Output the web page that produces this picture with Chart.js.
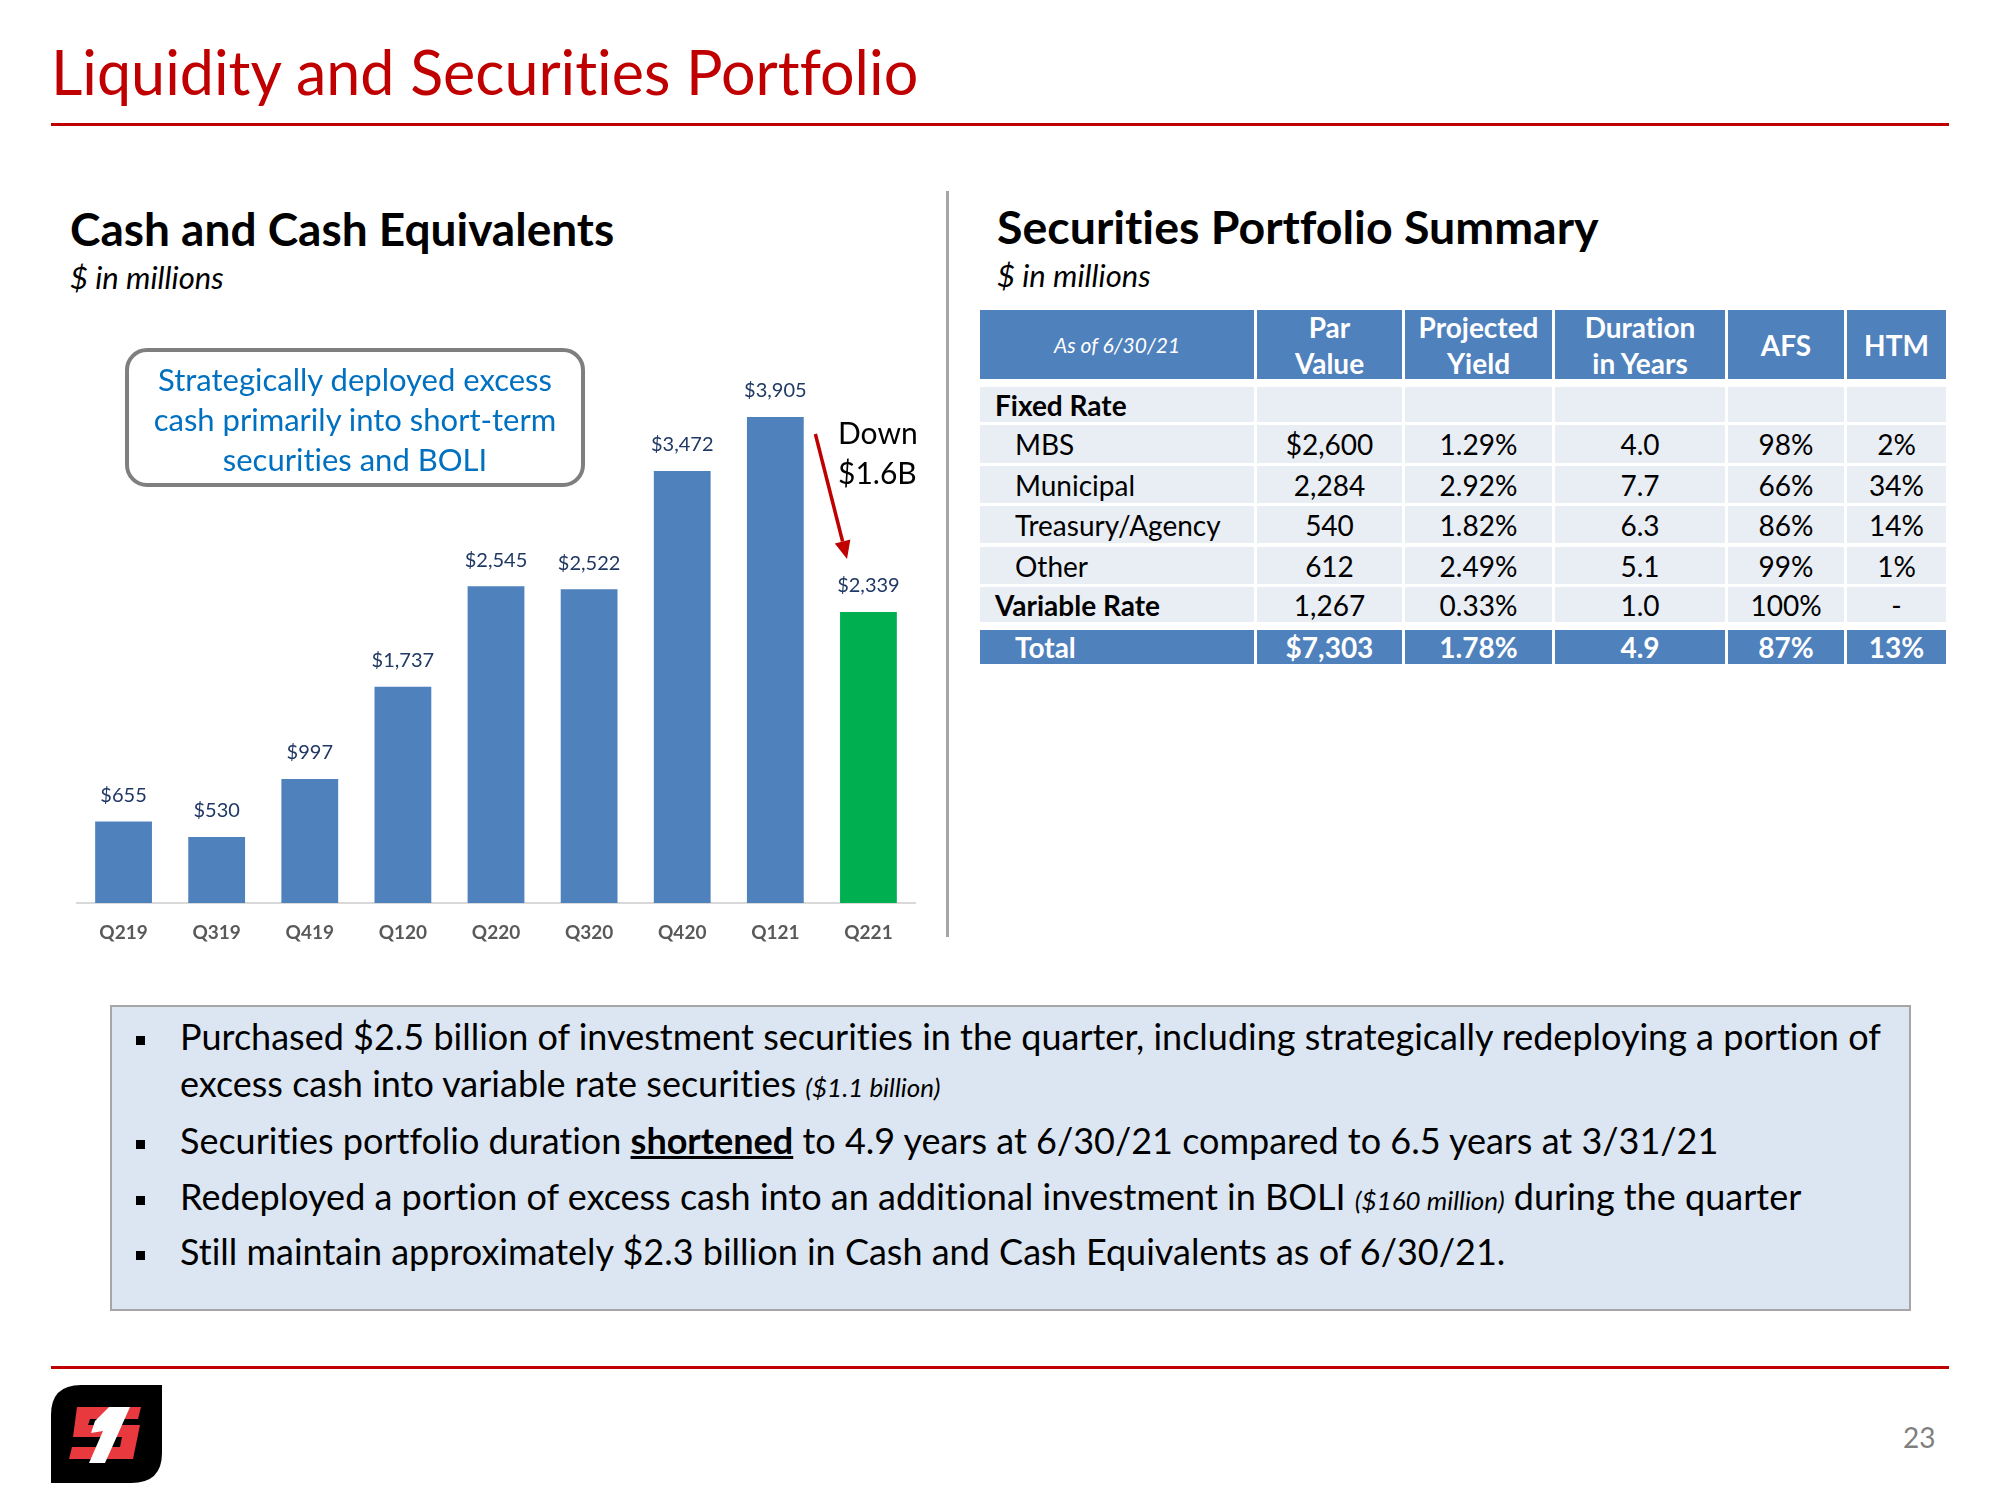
<!DOCTYPE html>
<html><head><meta charset="utf-8">
<script src="https://cdn.jsdelivr.net/npm/chart.js@4.4.0/dist/chart.umd.min.js"></script>
<style>
html,body{margin:0;padding:0;background:#fff;}
body{width:2000px;height:1500px;position:relative;overflow:hidden;font-family:Lato,"Open Sans",sans-serif;font-variant-ligatures:none;font-feature-settings:"liga" 0;}
.abs{position:absolute;white-space:nowrap;line-height:1;}
.hr{position:absolute;left:51px;width:1898px;height:3px;background:#c00000;}
#tbl div.cell{position:absolute;display:flex;align-items:center;justify-content:center;box-sizing:border-box;font-size:28px;color:#000;white-space:nowrap;}
.bul{position:absolute;left:136px;width:9px;height:9px;background:#000;}
.bt{font-size:36px;color:#000;left:180px;}
.sm{font-size:26px;font-style:italic;}
</style></head>
<body>
<div class="abs" style="left:51px;top:41px;font-size:61px;color:#c00000;">Liquidity and Securities Portfolio</div>
<div class="hr" style="top:123px;"></div>

<div class="abs" style="left:70px;top:206px;font-size:46px;font-weight:700;color:#000;">Cash and Cash Equivalents</div>
<div class="abs" style="left:70px;top:262px;font-size:31px;font-style:italic;color:#000;">$ in millions</div>

<div style="position:absolute;left:946px;top:191px;width:3px;height:746px;background:#a6a6a6;"></div>

<div class="abs" style="left:997px;top:203px;font-size:46.5px;font-weight:700;color:#000;">Securities Portfolio Summary</div>
<div class="abs" style="left:997px;top:260px;font-size:31px;font-style:italic;color:#000;">$ in millions</div>

<canvas id="c" width="880" height="660" style="position:absolute;left:60px;top:300px;"></canvas>

<div style="position:absolute;left:125px;top:348px;width:460px;height:139px;box-sizing:border-box;border:4px solid #7f7f7f;border-radius:22px;background:#fff;"></div>
<div class="abs" style="left:125px;width:460px;text-align:center;top:359px;font-size:31px;line-height:40px;color:#0070c0;">Strategically deployed excess<br>cash primarily into short-term<br>securities and BOLI</div>

<div class="abs" style="left:838px;top:412px;font-size:30px;line-height:40px;color:#000;">Down<br>$1.6B</div>

<div id="tbl"></div>

<div style="position:absolute;left:110px;top:1005px;width:1801px;height:306px;box-sizing:border-box;background:#dce6f2;border:2px solid #a6a6a6;"></div>
<div class="bul" style="top:1036px;"></div>
<div class="abs bt" style="top:1018px;">Purchased $2.5 billion of investment securities in the quarter, including strategically redeploying a portion of</div>
<div class="abs bt" style="top:1065px;">excess cash into variable rate securities <span class="sm">($1.1 billion)</span></div>
<div class="bul" style="top:1140px;"></div>
<div class="abs bt" style="top:1122px;">Securities portfolio duration <b style="text-decoration:underline;">shortened</b> to 4.9 years at 6/30/21 compared to 6.5 years at 3/31/21</div>
<div class="bul" style="top:1196px;"></div>
<div class="abs bt" style="top:1178px;">Redeployed a portion of excess cash into an additional investment in BOLI <span class="sm">($160 million)</span> during the quarter</div>
<div class="bul" style="top:1251px;"></div>
<div class="abs bt" style="top:1233px;">Still maintain approximately $2.3 billion in Cash and Cash Equivalents as of 6/30/21.</div>

<div class="hr" style="top:1366px;"></div>

<svg style="position:absolute;left:51px;top:1385px;" width="112" height="99" viewBox="0 0 112 99">
  <path d="M30 0 H111 V68 Q111 98 80 98 H0 V30 Q0 0 30 0 Z" fill="#000"/>
  <path d="M26 22 H90 L87 34 H39 L37 40 H89 L82 74 H18 L21 62 H69 L71 52 H22 Z" fill="#e8393f"/>
  <path d="M58 22 H79 L54 78 H38 L52 46 L40 48 L44 36 Z" fill="#fff"/>
</svg>
<div class="abs" style="left:1903px;top:1423px;font-size:28px;color:#7f7f7f;">23</div>

<script>
// ---- Chart data ----
const categories = ['Q219','Q319','Q419','Q120','Q220','Q320','Q420','Q121','Q221'];
const cashValues = [655, 530, 997, 1737, 2545, 2522, 3472, 3905, 2339];
const valueLabels = ['$655','$530','$997','$1,737','$2,545','$2,522','$3,472','$3,905','$2,339'];

// ---- Table data ----
const tableHeaders = ['As of 6/30/21', 'Par\nValue', 'Projected\nYield', 'Duration\nin Years', 'AFS', 'HTM'];
const rowLabels   = ['Fixed Rate', 'MBS', 'Municipal', 'Treasury/Agency', 'Other', 'Variable Rate', 'Total'];
const parValue    = ['', '$2,600', '2,284', '540', '612', '1,267', '$7,303'];
const projYield   = ['', '1.29%', '2.92%', '1.82%', '2.49%', '0.33%', '1.78%'];
const durationYrs = ['', '4.0', '7.7', '6.3', '5.1', '1.0', '4.9'];
const afsPct      = ['', '98%', '66%', '86%', '99%', '100%', '87%'];
const htmPct      = ['', '2%', '34%', '14%', '1%', '-', '13%'];

// build table
(function(){
  const colX = [980, 1257, 1405, 1555, 1728, 1847, 1949];
  const rowY = [[310,379],[387,422],[425,463],[466,503],[506,543],[547,584],[587,622],[630,664]];
  const tbl = document.getElementById('tbl');
  const cols = [rowLabels, parValue, projYield, durationYrs, afsPct, htmPct];
  function cell(r, c, text, style){
    const d = document.createElement('div');
    d.className = 'cell';
    const x0 = colX[c], x1 = colX[c+1] - 3;
    d.style.left = x0 + 'px'; d.style.width = (x1 - x0) + 'px';
    d.style.top = rowY[r][0] + 'px'; d.style.height = (rowY[r][1] - rowY[r][0]) + 'px';
    Object.assign(d.style, style || {});
    d.innerHTML = text.replace(/\n/g,'<br>');
    tbl.appendChild(d);
  }
  for (let c = 0; c < 6; c++) {
    const st = {background:'#4f81bd', color:'#fff', fontWeight:'700', lineHeight:'36px', textAlign:'center'};
    if (c === 0) { st.fontWeight = '400'; st.fontStyle = 'italic'; st.fontSize = '21px'; }
    cell(0, c, tableHeaders[c], st);
  }
  for (let r = 0; r < rowLabels.length; r++) {
    const isTotal = r === rowLabels.length - 1;
    for (let c = 0; c < 6; c++) {
      const st = {background: isTotal ? '#4f81bd' : '#e9edf4', color: isTotal ? '#fff' : '#000'};
      if (isTotal) st.fontWeight = '700';
      if (c === 0) {
        st.justifyContent = 'flex-start';
        const bold = (r === 0 || r === 5);
        st.paddingLeft = bold ? '15px' : '35px';
        if (bold) st.fontWeight = '700';
      }
      cell(r + 1, c, cols[c][r], st);
    }
  }
})();

const barColors = cashValues.map((v, i) => i === cashValues.length - 1 ? '#00b050' : '#4f81bd');

const labelPlugin = {
  id: 'labels',
  afterDatasetsDraw(chart) {
    const ctx = chart.ctx;
    const meta = chart.getDatasetMeta(0);
    ctx.save();
    ctx.font = '20px Lato';
    ctx.fillStyle = '#203864';
    ctx.textAlign = 'center';
    ctx.textBaseline = 'middle';
    meta.data.forEach((bar, i) => {
      ctx.fillText(valueLabels[i], bar.x, bar.y - 26);
    });
    // red arrow from Q121 to Q221
    const xs = chart.scales.x, ys = chart.scales.y;
    const step = xs.getPixelForValue(8) - xs.getPixelForValue(7);
    const x0 = xs.getPixelForValue(7) + 0.43 * step;
    const y0 = ys.getPixelForValue(cashValues[7]) + 17;
    const x1 = xs.getPixelForValue(7) + 0.77 * step;
    const y1 = ys.getPixelForValue(cashValues[8]) - 53;
    const ang = Math.atan2(y1 - y0, x1 - x0);
    const hl = 18, hw = 8;
    const bx = x1 - hl * Math.cos(ang), by = y1 - hl * Math.sin(ang);
    ctx.strokeStyle = '#c00000';
    ctx.fillStyle = '#c00000';
    ctx.lineWidth = 3.5;
    ctx.beginPath(); ctx.moveTo(x0, y0); ctx.lineTo(bx, by); ctx.stroke();
    ctx.beginPath();
    ctx.moveTo(x1, y1);
    ctx.lineTo(bx + hw * Math.sin(ang), by - hw * Math.cos(ang));
    ctx.lineTo(bx - hw * Math.sin(ang), by + hw * Math.cos(ang));
    ctx.closePath(); ctx.fill();
    ctx.restore();
  }
};

new Chart(document.getElementById('c'), {
  type: 'bar',
  data: {
    labels: categories,
    datasets: [{ data: cashValues, backgroundColor: barColors, borderWidth: 0,
      categoryPercentage: 1.0, barPercentage: 0.61 }]
  },
  options: {
    responsive: false, animation: false, devicePixelRatio: 1,
    layout: { padding: { left: 17, right: 25, top: 43, bottom: 7 } },
    plugins: { legend: { display: false }, tooltip: { enabled: false } },
    scales: {
      x: {
        grid: { display: false, drawTicks: false },
        border: { display: true, color: '#d9d9d9', width: 2 },
        ticks: { padding: 18, color: '#595959', font: { family: 'Lato', size: 19, weight: '700' } },
        afterFit(s) { s.height = 50; }
      },
      y: { display: false, min: 0, max: 4500 }
    }
  },
  plugins: [labelPlugin]
});
</script>
</body></html>
